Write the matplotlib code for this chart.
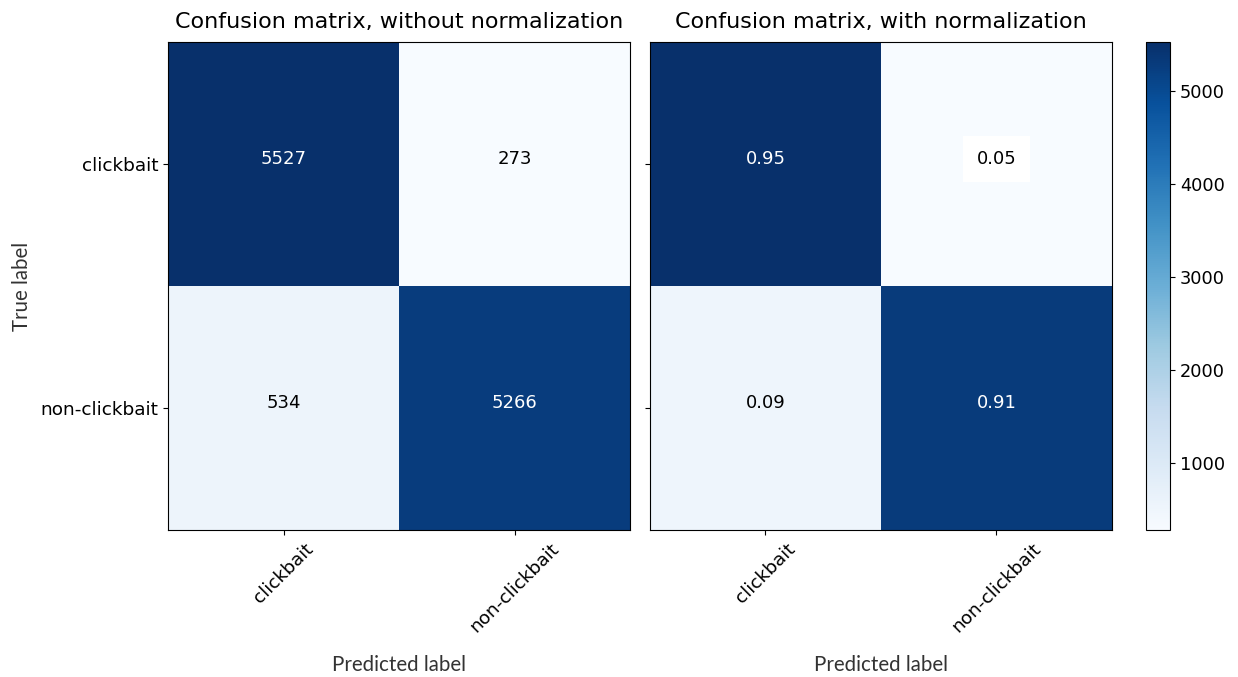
import matplotlib
matplotlib.use('Agg')
import matplotlib.pyplot as plt
import numpy as np

classes = ['clickbait', 'non-clickbait']
counts = np.array([[5527, 273],
                   [534, 5266]])
normed = np.array([[0.95, 0.05],
                   [0.09, 0.91]])

fig = plt.figure(figsize=(12.38, 6.77), dpi=100)
ax1 = fig.add_axes([0.1357, 0.2171, 0.3732, 0.7208])
ax2 = fig.add_axes([0.5250, 0.2171, 0.3732, 0.7208])
cax = fig.add_axes([0.9257, 0.2171, 0.0194, 0.7208])

label_font = 'Lato'


def draw_cm(ax, cm, title, fmt, show_ylabels):
    im = ax.imshow(cm, interpolation='nearest', cmap=plt.cm.Blues, aspect='auto')
    ax.set_title(title, fontsize=16, pad=10)
    ticks = np.arange(len(classes))
    ax.set_xticks(ticks)
    ax.set_xticklabels(classes, rotation=45, fontsize=13.3)
    ax.set_yticks(ticks)
    if show_ylabels:
        ax.set_yticklabels(classes, fontsize=13.3)
    else:
        ax.set_yticklabels([])
    thresh = cm.max() / 2.
    for i in range(cm.shape[0]):
        for j in range(cm.shape[1]):
            txt = format(cm[i, j], fmt)
            color = 'white' if cm[i, j] > thresh else 'black'
            kw = {}
            if fmt == '.2f' and i == 0 and j == 1:
                kw['bbox'] = dict(facecolor='white', edgecolor='none', pad=10)
            ax.text(j, i, txt, ha='center', color=color, fontsize=13, **kw)
    ax.set_xlabel('Predicted label', fontsize=14.8, family=label_font,
                  color='#333333', labelpad=14)
    return im


im = draw_cm(ax1, counts, 'Confusion matrix, without normalization', 'd', True)
draw_cm(ax2, normed, 'Confusion matrix, with normalization', '.2f', False)
ax1.set_ylabel('True label', fontsize=14.8, family=label_font,
               color='#333333', labelpad=6)

cb = fig.colorbar(im, cax=cax)
cb.ax.tick_params(labelsize=12.8)

fig.savefig('out.png', dpi=100)
